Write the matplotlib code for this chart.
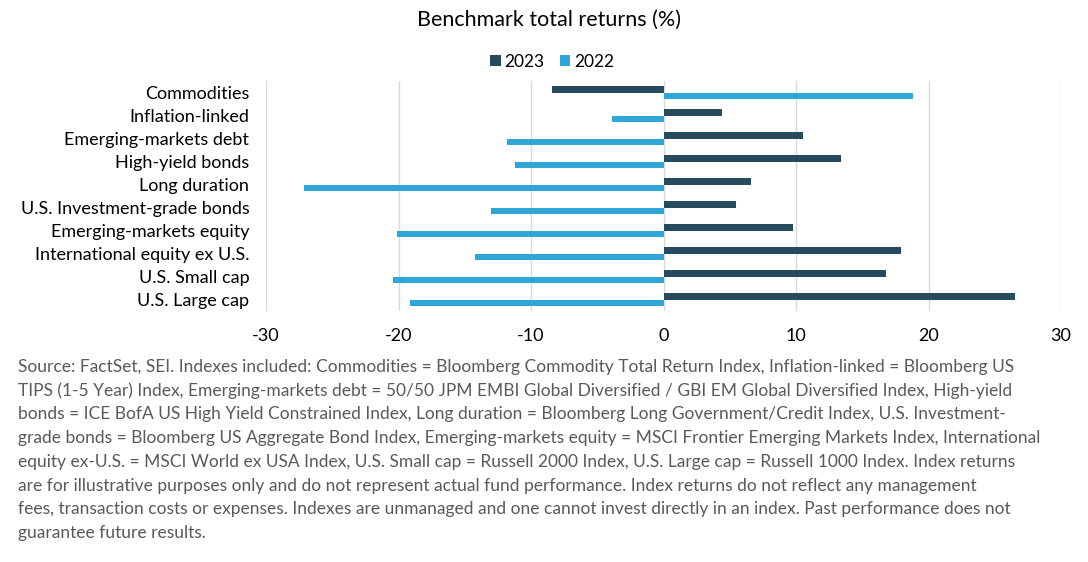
import numpy as np
import matplotlib
matplotlib.use('Agg')
import matplotlib.pyplot as plt

plt.rcParams['font.family'] = ['Lato', 'DejaVu Sans']
plt.rcParams['axes.unicode_minus'] = False

cats = ['Commodities', 'Inflation-linked', 'Emerging-markets debt', 'High-yield bonds',
        'Long duration', 'U.S. Investment-grade bonds', 'Emerging-markets equity',
        'International equity ex U.S.', 'U.S. Small cap', 'U.S. Large cap']
r2023 = [-8.4, 4.4, 10.5, 13.4, 6.6, 5.5, 9.8, 17.9, 16.8, 26.5]
r2022 = [18.8, -3.9, -11.8, -11.2, -27.1, -13.0, -20.1, -14.2, -20.4, -19.1]
ticks = [-30, -20, -10, 0, 10, 20, 30]

footnote = [
    "Source: FactSet, SEI. Indexes included: Commodities = Bloomberg Commodity Total Return Index, Inflation-linked = Bloomberg US",
    "TIPS (1-5 Year) Index, Emerging-markets debt = 50/50 JPM EMBI Global Diversified / GBI EM Global Diversified Index, High-yield",
    "bonds = ICE BofA US High Yield Constrained Index, Long duration = Bloomberg Long Government/Credit Index, U.S. Investment-",
    "grade bonds = Bloomberg US Aggregate Bond Index, Emerging-markets equity = MSCI Frontier Emerging Markets Index, International",
    "equity ex-U.S. = MSCI World ex USA Index, U.S. Small cap = Russell 2000 Index, U.S. Large cap = Russell 1000 Index. Index returns",
    "are for illustrative purposes only and do not represent actual fund performance. Index returns do not reflect any management",
    "fees, transaction costs or expenses. Indexes are unmanaged and one cannot invest directly in an index. Past performance does not",
    "guarantee future results.",
]

DRK = '#264b5f'
LGT = '#2ea6d8'

fig = plt.figure(figsize=(10.88, 5.62), dpi=100)
ax = fig.add_axes([266/1088, 1-311/562, (1061-266)/1088, (311-81)/562])

y = np.arange(len(cats))
h = 0.27
ax.barh(y - h/2, r2023, height=h, color=DRK, label='2023')
ax.barh(y + h/2, r2022, height=h, color=LGT, label='2022')

ax.set_xlim(-30, 30)
ax.set_ylim(len(cats) - 0.5, -0.5)
ax.set_xticks(ticks)
ax.set_yticks(y)
ax.set_yticklabels(cats)
ax.tick_params(length=0, labelsize=13, colors='black')
ax.tick_params(axis='x', pad=12)
ax.tick_params(axis='y', pad=12)
ax.grid(axis='x', color='#d9d9d9', lw=1)
ax.set_axisbelow(True)
for s in ax.spines.values():
    s.set_visible(False)

fig.text(549/1088, 1-20/562, 'Benchmark total returns (%)', ha='center', va='center', fontsize=15.5)
fig.legend(loc='center', bbox_to_anchor=(552/1088, 1-62/562), ncol=2, frameon=False,
           fontsize=12.5, handlelength=0.6, handleheight=0.6, handletextpad=0.2, columnspacing=0.9)

for i, line in enumerate(footnote):
    fig.text(18/1088, 1-(367 + i*23.7)/562, line, ha='left', va='center', fontsize=12.5, color='#595959')

plt.savefig('out.png', dpi=100)
